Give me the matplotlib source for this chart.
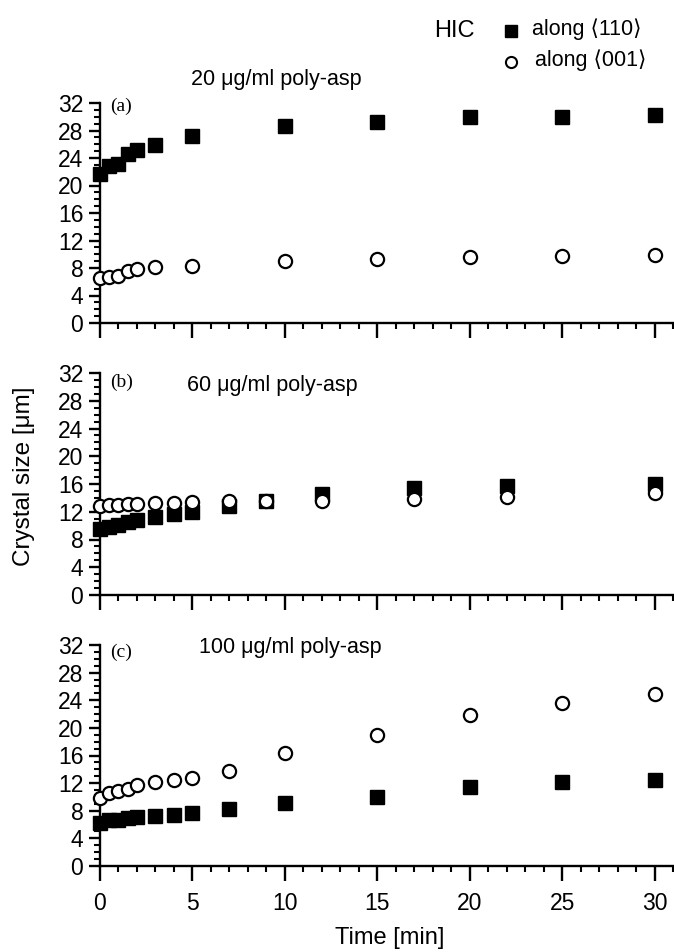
import matplotlib
matplotlib.use("Agg")
import matplotlib.pyplot as plt
from matplotlib.ticker import MultipleLocator

# --- data ---
t_a = [0, 0.5, 1, 1.5, 2, 3, 5, 10, 15, 20, 25, 30]
a_110 = [21.7, 22.8, 23.2, 24.6, 25.1, 25.9, 27.2, 28.6, 29.3, 29.9, 30.0, 30.2]
a_001 = [6.6, 6.7, 6.8, 7.5, 7.9, 8.1, 8.3, 8.95, 9.3, 9.6, 9.7, 9.9]

t_b = [0, 0.5, 1, 1.5, 2, 3, 4, 5, 7, 9, 12, 17, 22, 30]
b_110 = [9.5, 9.8, 10.1, 10.5, 10.8, 11.2, 11.7, 12.0, 12.8, 13.6, 14.6, 15.4, 15.7, 16.0]
b_001 = [12.9, 13.0, 13.0, 13.1, 13.1, 13.2, 13.3, 13.4, 13.6, 13.5, 13.6, 13.8, 14.1, 14.7]

t_c = [0, 0.5, 1, 1.5, 2, 3, 4, 5, 7, 10, 15, 20, 25, 30]
c_110 = [6.2, 6.6, 6.6, 6.9, 7.1, 7.3, 7.35, 7.7, 8.2, 9.1, 10.0, 11.4, 12.1, 12.5]
c_001 = [9.8, 10.5, 10.9, 11.2, 11.8, 12.1, 12.5, 12.8, 13.8, 16.3, 19.0, 21.8, 23.6, 24.9]

titles = ["20 \u03bcg/ml poly-asp", "60 \u03bcg/ml poly-asp", "100 \u03bcg/ml poly-asp"]
panel_tags = ["(a)", "(b)", "(c)"]
y_ticks = [0, 4, 8, 12, 16, 20, 24, 28, 32]
x_ticks = [0, 5, 10, 15, 20, 25, 30]

sans = ["Liberation Sans", "DejaVu Sans"]
plt.rcParams["font.family"] = sans

W, H = 674, 952
fig = plt.figure(figsize=(W / 100, H / 100), dpi=100)

# axes boxes in pixels: (top, bottom)
boxes = [(103, 323), (373, 595), (645, 866)]
left_px, right_px = 100, 673
panels = [(t_a, a_110, a_001), (t_b, b_110, b_001), (t_c, c_110, c_001)]
tag_y = [98, 374, 644]
title_xy = [(276, 79), (272, 385), (290, 648)]

for i, ((top, bot), (t, s110, s001)) in enumerate(zip(boxes, panels)):
    ax = fig.add_axes([left_px / W, 1 - bot / H,
                       (right_px - left_px) / W, (bot - top) / H])
    ax.plot(t, s110, linestyle="none", marker="s", markersize=10,
            markerfacecolor="black", markeredgecolor="black", clip_on=False, zorder=3)
    ax.plot(t, s001, linestyle="none", marker="o", markersize=9.5,
            markerfacecolor="white", markeredgecolor="black",
            markeredgewidth=1.6, clip_on=False, zorder=4)

    ax.set_xlim(0, 31)
    ax.set_ylim(0, 32)
    ax.spines["top"].set_visible(False)
    ax.spines["right"].set_visible(False)
    for sp in ["left", "bottom"]:
        ax.spines[sp].set_linewidth(1.7)

    ax.set_xticks(x_ticks)
    ax.set_yticks(y_ticks)
    ax.xaxis.set_minor_locator(MultipleLocator(1))
    ax.yaxis.set_minor_locator(MultipleLocator(1))
    ax.tick_params(axis="both", which="major", direction="out",
                   length=8, width=1.7, labelsize=16.5)
    ax.tick_params(axis="both", which="minor", direction="out",
                   length=4, width=1.5)
    ax.tick_params(axis="x", which="major", length=11, pad=8)
    ax.tick_params(axis="y", which="major", pad=4)
    if i < 2:
        ax.set_xticklabels([])

    # panel tag in serif
    fig.text(110 / W, 1 - tag_y[i] / H, panel_tags[i], ha="left", va="top",
             fontsize=14, family="Liberation Serif")
    tx, ty = title_xy[i]
    fig.text(tx / W, 1 - ty / H, titles[i], ha="center", va="center",
             fontsize=15.5)

# legend drawn by hand
fig.text(475 / W, 1 - 31 / H, "HIC", ha="right", va="center", fontsize=17)
fig.lines.append(plt.Line2D([511 / W], [1 - 31 / H], transform=fig.transFigure,
                            marker="s", markersize=9, color="black",
                            linestyle="none"))
fig.lines.append(plt.Line2D([511 / W], [1 - 62 / H], transform=fig.transFigure,
                            marker="o", markersize=8, markerfacecolor="white",
                            markeredgecolor="black", markeredgewidth=1.5,
                            linestyle="none"))
fig.text(532 / W, 1 - 29 / H, "along \u27e8110\u27e9", ha="left", va="center",
         fontsize=15.5)
fig.text(535 / W, 1 - 60 / H, "along \u27e8001\u27e9", ha="left", va="center",
         fontsize=15.5)

# axis labels
fig.text(24 / W, 1 - 476 / H, "Crystal size [\u03bcm]", rotation=90,
         ha="center", va="center", fontsize=17.5)
fig.text(390 / W, 1 - 938 / H, "Time [min]", ha="center", va="center",
         fontsize=17)

fig.savefig("out.png", dpi=100)
